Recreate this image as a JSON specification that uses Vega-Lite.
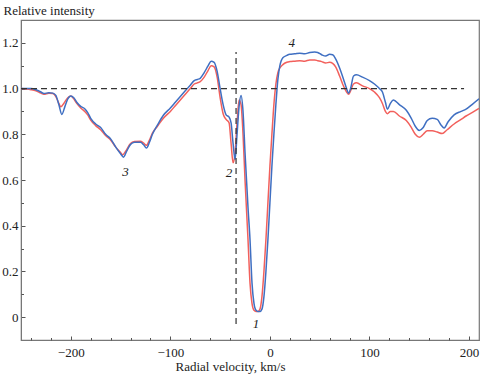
{
  "$schema": "https://vega.github.io/schema/vega-lite/v6.json",
  "autosize": {"type": "none"},
  "padding": {"left": 21, "top": 20, "right": 1, "bottom": 35},
  "width": 458,
  "height": 320,
  "config": {
    "view": {"stroke": "#777", "strokeWidth": 1.2},
    "font": "Liberation Serif",
    "axis": {"grid": false, "labelFont": "Liberation Serif", "titleFont": "Liberation Serif", "labelColor": "#222", "titleColor": "#222", "tickColor": "#555", "domainColor": "#777", "labelFontSize": 13, "titleFontSize": 13, "titleFontWeight": "normal"}
  },
  "datasets": {
    "blue": [
      {"v":-250,"i":1.0},{"v":-245,"i":1.0},{"v":-240,"i":1.0},{"v":-235,"i":0.995},{"v":-230,"i":0.985},{"v":-227,"i":0.978},{"v":-222,"i":0.982},{"v":-218,"i":0.98},{"v":-215,"i":0.97},{"v":-212,"i":0.93},{"v":-209,"i":0.887},{"v":-206,"i":0.92},{"v":-203,"i":0.955},{"v":-200,"i":0.968},{"v":-197,"i":0.96},{"v":-194,"i":0.94},{"v":-190,"i":0.922},{"v":-186,"i":0.912},{"v":-183,"i":0.895},{"v":-180,"i":0.87},{"v":-175,"i":0.845},{"v":-170,"i":0.83},{"v":-165,"i":0.8},{"v":-160,"i":0.78},{"v":-155,"i":0.745},{"v":-150,"i":0.715},{"v":-147,"i":0.7},{"v":-144,"i":0.725},{"v":-140,"i":0.755},{"v":-136,"i":0.765},{"v":-130,"i":0.765},{"v":-127,"i":0.755},{"v":-124,"i":0.74},{"v":-121,"i":0.765},{"v":-118,"i":0.8},{"v":-113,"i":0.84},{"v":-107,"i":0.883},{"v":-100,"i":0.915},{"v":-95,"i":0.94},{"v":-90,"i":0.965},{"v":-85,"i":0.99},{"v":-80,"i":1.015},{"v":-76,"i":1.035},{"v":-73,"i":1.04},{"v":-70,"i":1.045},{"v":-66,"i":1.07},{"v":-62,"i":1.1},{"v":-59,"i":1.12},{"v":-56,"i":1.115},{"v":-53,"i":1.075},{"v":-50,"i":1.0},{"v":-47,"i":0.93},{"v":-44,"i":0.885},{"v":-41,"i":0.875},{"v":-39,"i":0.85},{"v":-37,"i":0.76},{"v":-35,"i":0.69},{"v":-33,"i":0.8},{"v":-31,"i":0.92},{"v":-29,"i":0.97},{"v":-27,"i":0.9},{"v":-25,"i":0.72},{"v":-22,"i":0.48},{"v":-20,"i":0.34},{"v":-18,"i":0.15},{"v":-16,"i":0.06},{"v":-14,"i":0.03},{"v":-12,"i":0.025},{"v":-10,"i":0.025},{"v":-8,"i":0.035},{"v":-6,"i":0.09},{"v":-4,"i":0.2},{"v":-2,"i":0.34},{"v":0,"i":0.5},{"v":2,"i":0.66},{"v":4,"i":0.8},{"v":6,"i":0.93},{"v":8,"i":1.04},{"v":10,"i":1.1},{"v":13,"i":1.135},{"v":17,"i":1.145},{"v":20,"i":1.15},{"v":25,"i":1.152},{"v":30,"i":1.155},{"v":35,"i":1.152},{"v":40,"i":1.158},{"v":45,"i":1.16},{"v":48,"i":1.158},{"v":52,"i":1.148},{"v":56,"i":1.142},{"v":60,"i":1.15},{"v":63,"i":1.148},{"v":66,"i":1.13},{"v":70,"i":1.09},{"v":74,"i":1.04},{"v":77,"i":1.0},{"v":79,"i":0.98},{"v":81,"i":1.0},{"v":84,"i":1.055},{"v":87,"i":1.06},{"v":93,"i":1.05},{"v":100,"i":1.035},{"v":105,"i":1.02},{"v":110,"i":1.0},{"v":113,"i":0.985},{"v":116,"i":0.94},{"v":118,"i":0.91},{"v":121,"i":0.935},{"v":124,"i":0.95},{"v":130,"i":0.93},{"v":137,"i":0.905},{"v":142,"i":0.87},{"v":146,"i":0.835},{"v":150,"i":0.817},{"v":154,"i":0.83},{"v":158,"i":0.86},{"v":163,"i":0.87},{"v":168,"i":0.865},{"v":172,"i":0.84},{"v":175,"i":0.828},{"v":179,"i":0.855},{"v":185,"i":0.885},{"v":192,"i":0.9},{"v":197,"i":0.91},{"v":203,"i":0.93},{"v":210,"i":0.955}
    ],
    "red": [
      {"v":-250,"i":1.0},{"v":-245,"i":0.998},{"v":-240,"i":0.995},{"v":-235,"i":0.99},{"v":-230,"i":0.98},{"v":-227,"i":0.975},{"v":-222,"i":0.98},{"v":-218,"i":0.978},{"v":-215,"i":0.965},{"v":-212,"i":0.935},{"v":-210,"i":0.92},{"v":-207,"i":0.935},{"v":-203,"i":0.96},{"v":-200,"i":0.968},{"v":-197,"i":0.955},{"v":-194,"i":0.935},{"v":-190,"i":0.915},{"v":-186,"i":0.9},{"v":-183,"i":0.885},{"v":-180,"i":0.862},{"v":-175,"i":0.838},{"v":-170,"i":0.82},{"v":-165,"i":0.795},{"v":-160,"i":0.775},{"v":-155,"i":0.745},{"v":-150,"i":0.72},{"v":-148,"i":0.71},{"v":-145,"i":0.725},{"v":-140,"i":0.76},{"v":-136,"i":0.768},{"v":-130,"i":0.77},{"v":-127,"i":0.762},{"v":-124,"i":0.752},{"v":-121,"i":0.775},{"v":-118,"i":0.805},{"v":-113,"i":0.835},{"v":-107,"i":0.87},{"v":-100,"i":0.9},{"v":-95,"i":0.925},{"v":-90,"i":0.95},{"v":-85,"i":0.975},{"v":-80,"i":1.0},{"v":-76,"i":1.02},{"v":-73,"i":1.025},{"v":-70,"i":1.03},{"v":-66,"i":1.05},{"v":-62,"i":1.08},{"v":-59,"i":1.1},{"v":-56,"i":1.095},{"v":-53,"i":1.05},{"v":-50,"i":0.96},{"v":-47,"i":0.89},{"v":-44,"i":0.865},{"v":-41,"i":0.85},{"v":-39,"i":0.76},{"v":-37,"i":0.675},{"v":-35,"i":0.72},{"v":-33,"i":0.85},{"v":-31,"i":0.95},{"v":-29,"i":0.93},{"v":-27,"i":0.8},{"v":-25,"i":0.6},{"v":-22,"i":0.34},{"v":-20,"i":0.15},{"v":-18,"i":0.06},{"v":-16,"i":0.03},{"v":-14,"i":0.025},{"v":-12,"i":0.025},{"v":-10,"i":0.035},{"v":-8,"i":0.09},{"v":-6,"i":0.2},{"v":-4,"i":0.34},{"v":-2,"i":0.5},{"v":0,"i":0.66},{"v":2,"i":0.8},{"v":4,"i":0.93},{"v":6,"i":1.02},{"v":8,"i":1.07},{"v":10,"i":1.09},{"v":13,"i":1.105},{"v":17,"i":1.115},{"v":20,"i":1.118},{"v":25,"i":1.12},{"v":30,"i":1.122},{"v":35,"i":1.12},{"v":40,"i":1.125},{"v":45,"i":1.125},{"v":48,"i":1.122},{"v":52,"i":1.118},{"v":56,"i":1.112},{"v":60,"i":1.115},{"v":63,"i":1.11},{"v":66,"i":1.095},{"v":70,"i":1.055},{"v":74,"i":1.01},{"v":77,"i":0.985},{"v":79,"i":0.975},{"v":81,"i":0.99},{"v":84,"i":1.02},{"v":87,"i":1.025},{"v":93,"i":1.012},{"v":100,"i":1.0},{"v":105,"i":0.985},{"v":110,"i":0.96},{"v":113,"i":0.935},{"v":116,"i":0.9},{"v":118,"i":0.89},{"v":121,"i":0.9},{"v":124,"i":0.9},{"v":130,"i":0.88},{"v":137,"i":0.86},{"v":142,"i":0.83},{"v":146,"i":0.8},{"v":150,"i":0.787},{"v":154,"i":0.8},{"v":158,"i":0.815},{"v":163,"i":0.815},{"v":168,"i":0.81},{"v":173,"i":0.803},{"v":178,"i":0.82},{"v":185,"i":0.845},{"v":192,"i":0.865},{"v":197,"i":0.88},{"v":203,"i":0.895},{"v":210,"i":0.913}
    ],
    "hline": [{"v":-250,"i":1.0},{"v":195,"i":1.0}],
    "vline": [{"v":-34,"i":-0.03},{"v":-34,"i":1.16}],
    "labels": [
      {"v":-14,"i":-0.03,"t":"1"},
      {"v":-41,"i":0.63,"t":"2"},
      {"v":-145,"i":0.635,"t":"3"},
      {"v":22,"i":1.2,"t":"4"}
    ]
  },
  "resolve": {"axis": {"x": "independent", "y": "independent"}},
  "layer": [
    {
      "data": {"name": "red"},
      "mark": {"type": "line", "color": "#f2605c", "strokeWidth": 1.5, "clip": true, "interpolate": "monotone"},
      "encoding": {
        "x": {"field": "v", "type": "quantitative", "scale": {"domain": [-250, 210], "nice": false, "zero": false},
          "axis": {"orient": "bottom", "values": [-200, -100, 0, 100, 200], "tickSize": -4, "labelPadding": 10, "format": "d", "title": "Radial velocity, km/s", "titleX": 209, "titleY": 30, "titleBaseline": "alphabetic", "titleAnchor": "middle", "titleAlign": "center"}},
        "y": {"field": "i", "type": "quantitative", "scale": {"domain": [-0.1, 1.3], "nice": false, "zero": false},
          "axis": {"orient": "left", "values": [0, 0.2, 0.4, 0.6, 0.8, 1.0, 1.2], "tickSize": -4, "labelPadding": 7, "labelExpr": "datum.value == 0 ? '0' : format(datum.value, '.1f')", "title": "Relative intensity", "titleAngle": 0, "titleAlign": "left", "titleBaseline": "alphabetic", "titleX": -18, "titleY": -6}}
      }
    },
    {
      "data": {"name": "blue"},
      "mark": {"type": "line", "color": "#3f6fc2", "strokeWidth": 1.5, "clip": true, "interpolate": "monotone"},
      "encoding": {
        "x": {"field": "v", "type": "quantitative",
          "axis": {"orient": "bottom", "values": [-240, -220, -180, -160, -140, -120, -80, -60, -40, -20, 20, 40, 60, 80, 120, 140, 160, 180], "tickSize": -2.5, "labels": false, "domain": false, "title": null}},
        "y": {"field": "i", "type": "quantitative",
          "axis": {"orient": "left", "values": [0.1, 0.3, 0.5, 0.7, 0.9, 1.1], "tickSize": -2.5, "labels": false, "domain": false, "title": null}}
      }
    },
    {
      "data": {"name": "hline"},
      "mark": {"type": "line", "color": "#333", "strokeWidth": 1.2, "strokeDash": [6, 4]},
      "encoding": {"x": {"field": "v", "type": "quantitative", "axis": null}, "y": {"field": "i", "type": "quantitative", "axis": null}}
    },
    {
      "data": {"name": "vline"},
      "mark": {"type": "line", "color": "#333", "strokeWidth": 1.2, "strokeDash": [6, 4]},
      "encoding": {"x": {"field": "v", "type": "quantitative", "axis": null}, "y": {"field": "i", "type": "quantitative", "axis": null}}
    },
    {
      "data": {"name": "labels"},
      "mark": {"type": "text", "font": "Liberation Serif", "fontStyle": "italic", "fontSize": 13, "color": "#222"},
      "encoding": {"x": {"field": "v", "type": "quantitative", "axis": null}, "y": {"field": "i", "type": "quantitative", "axis": null}, "text": {"field": "t"}}
    }
  ]
}
